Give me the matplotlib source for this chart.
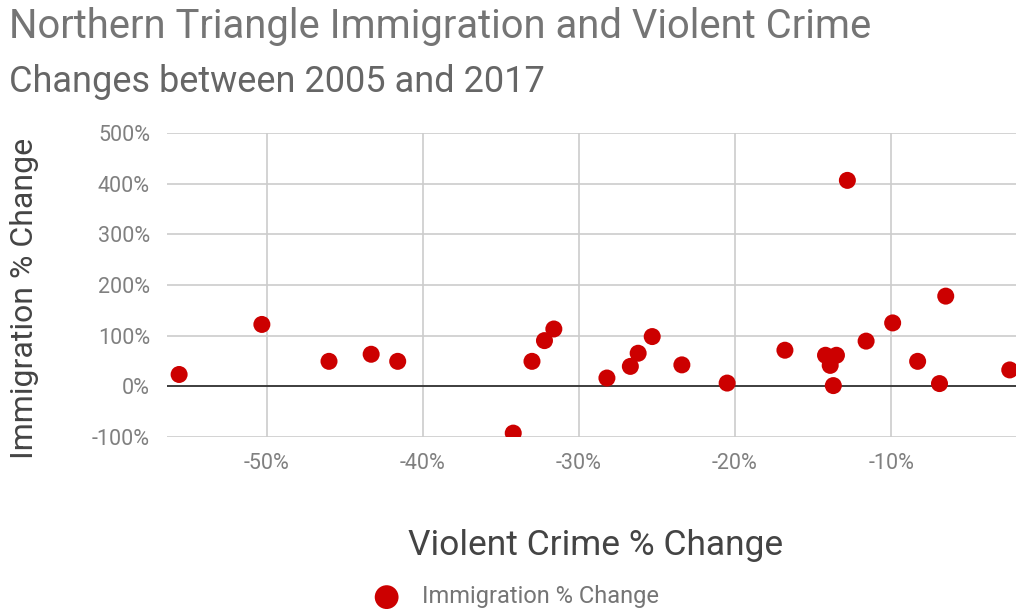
import matplotlib.pyplot as plt
from matplotlib.ticker import FuncFormatter

plt.rcParams['font.family'] = ['Roboto', 'DejaVu Sans']

# Violent crime % change (x) and immigration % change (y)
crime_change = [-55.6, -50.3, -46.0, -43.3, -41.6, -34.2, -33.0, -32.2, -31.6,
                -28.2, -26.7, -26.2, -25.3, -23.4, -20.5, -16.8, -14.2, -13.5,
                -13.9, -13.7, -12.8, -11.6, -9.9, -8.3, -6.9, -6.5, -2.4]
immigration_change = [23, 122, 49, 63, 49, -93, 49, 90, 113,
                      16, 39, 65, 98, 42, 6, 71, 61, 61,
                      41, 1, 407, 89, 125, 49, 5, 178, 32]

x_ticks = [-50, -40, -30, -20, -10]
y_ticks = [-100, 0, 100, 200, 300, 400, 500]

fig = plt.figure(figsize=(10.16, 6.09), dpi=100)
ax = fig.add_axes([0.164, 0.283, 0.836, 0.498])

ax.scatter(crime_change, immigration_change, s=150, color='#cc0000',
           edgecolors='none', zorder=3, label='Immigration % Change')
ax.axhline(0, color='#333333', lw=1.3, zorder=2)

ax.set_xlim(-56.4, -2.0)
ax.set_ylim(-100, 500)
ax.set_xticks(x_ticks)
ax.set_yticks(y_ticks)
ax.xaxis.set_major_formatter(FuncFormatter(lambda v, p: f'{v:.0f}%'))
ax.yaxis.set_major_formatter(FuncFormatter(lambda v, p: f'{v:.0f}%'))
ax.grid(True, color='#cccccc', lw=1.2, zorder=0)
for s in ax.spines.values():
    s.set_visible(False)
ax.tick_params(length=0, labelsize=15.5, colors='#808080')
ax.tick_params(axis='x', pad=12)
ax.tick_params(axis='y', pad=12)

fig.text(0.586, 0.105, 'Violent Crime % Change', fontsize=25.5,
         color='#444444', ha='center', va='center')
fig.text(0.024, 0.51, 'Immigration % Change', fontsize=23, rotation=90,
         color='#444444', ha='center', va='center')

fig.text(0.009, 0.957, 'Northern Triangle Immigration and Violent Crime',
         fontsize=28.8, color='#757575', va='center', ha='left')
fig.text(0.009, 0.866, 'Changes between 2005 and 2017',
         fontsize=26, color='#666666', va='center', ha='left')

fig.legend(loc='center', bbox_to_anchor=(0.503, 0.02), frameon=False,
           fontsize=17, labelcolor='#757575', handletextpad=0.5,
           markerscale=1.4)

fig.savefig('out.png', dpi=100)
